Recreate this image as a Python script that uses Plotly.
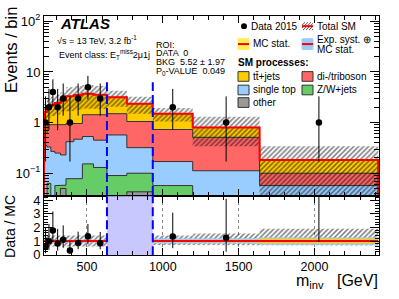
import math
import plotly.graph_objects as go

# ---------------- data ----------------
edges = [217, 237, 262, 289, 325, 362, 414, 470, 543, 632, 763, 934, 1197, 1638, 2420]
other = [0, 0, 0, 0, 0.05, 0, 0, 0, 0, 0, 0.043, 0, 0, 0]
zjets = [0, 0.063, 0, 0.057, 0.008, 0.078, 0.078, 0.153, 0.13, 0.09, 0.057, 0.057, 0, 0]
single_top = [0.35, 0.267, 0.27, 0.193, 0.172, 0.342, 0.392, 0.377, 0.32, 0.48, 0.22, 0.113, 0.112, 0.057]
diboson = [0.27, 0.58, 0.64, 0.66, 0.68, 0.54, 0.49, 0.90, 0.98, 0.93, 0.73, 0.56, 0.40, 0.043]
ttbar = [1.0, 1.14, 1.34, 1.54, 1.84, 2.34, 2.54, 2.27, 2.12, 1.65, 1.32, 0.77, 0.29, 0.083]

data = [1, 2, 4, 2, 3, 1, 3, 5, 3, 0, 0, 2, 1, 1]
data_err_up = [2.30, 2.64, 3.16, 2.64, 2.92, 2.30, 2.92, 3.38, 2.92, 1.84, 1.84, 2.64, 2.30, 2.30]
data_err_dn = [0.83, 1.29, 1.91, 1.29, 1.63, 0.83, 1.63, 2.16, 1.63, 0.0, 0.0, 1.29, 0.83, 0.83]

tot_unc_up = [0.72, 0.90, 1.00, 1.10, 1.20, 1.70, 1.80, 1.85, 1.75, 1.10, 0.87, 0.45, 0.50, 0.16]
tot_unc_dn = [0.65, 0.80, 0.90, 1.00, 1.10, 1.60, 1.70, 1.80, 1.70, 1.10, 0.87, 0.45, 0.46, 0.17]

ratio_tot_up = [0.40] * 11 + [0.40, 0.55, 0.90]
ratio_tot_dn = [0.40] * 11 + [0.30, 0.30, 0.33]
ratio_exp = [0.10] * 11 + [0.18, 0.20, 0.27]
ratio_mcstat = [0.05] * 11 + [0.10, 0.10, 0.17]

roi_lo, roi_hi = 632, 934
roi_line_top = 6.3

main_ytickvals = [0.1, 1, 10, 100]
main_yticktext = ["10<sup>\u22121</sup>", "1", "10", "10<sup>2</sup>"]

# ---------------- helpers ----------------
W, H = 399, 299
FLOOR = 1e-4
n = len(data)
centers = [(edges[i] + edges[i + 1]) / 2 for i in range(n)]


def steps(vals, floor=FLOOR):
    xs, ys = [], []
    for i, v in enumerate(vals):
        v = v if v > floor else floor
        xs += [edges[i], edges[i + 1]]
        ys += [v, v]
    return xs, ys


def closed(vals, floor=FLOOR):
    xs, ys = steps(vals, floor)
    return [edges[0]] + xs + [edges[-1]], [floor] + ys + [floor]


def band(upper, lower, floor=FLOOR):
    xu, yu = steps(upper, floor)
    xl, yl = steps(lower, floor)
    return xu + xl[::-1], yu + yl[::-1]


comps = [("other", other, "#999999"), ("zjets", zjets, "#66CC66"),
         ("single_top", single_top, "#99CCFF"), ("diboson", diboson, "#FF6666"),
         ("ttbar", ttbar, "#FFCC00")]
cums = []
run = [0.0] * n
for name, vals, col in comps:
    run = [r + v for r, v in zip(run, vals)]
    cums.append((name, list(run), col))
total = cums[-1][1]

fig = go.Figure()
OUT = "#333333"
HATCH = dict(shape="/", fgcolor="#000000", size=3.5, solidity=0.45, fillmode="overlay")

# stack (top first)
for name, cvals, col in reversed(cums):
    xs, ys = closed(cvals)
    fig.add_trace(go.Scatter(x=xs, y=ys, mode="lines", fill="toself", fillcolor=col,
                             line=dict(color=OUT, width=1), xaxis="x", yaxis="y",
                             hoverinfo="skip"))

# hatched total uncertainty (main)
up = [t + u for t, u in zip(total, tot_unc_up)]
dn = [t - d for t, d in zip(total, tot_unc_dn)]
bx, by = band(up, dn)
fig.add_trace(go.Scatter(x=bx, y=by, mode="lines", fill="toself",
                         fillcolor="rgba(0,0,0,0)", line=dict(width=0), fillpattern=HATCH,
                         xaxis="x", yaxis="y", hoverinfo="skip"))

# total SM red line
xs, ys = closed(total)
fig.add_trace(go.Scatter(x=xs, y=ys, mode="lines", line=dict(color="#FF0000", width=2),
                         xaxis="x", yaxis="y", hoverinfo="skip"))

# ROI dashed lines (main)
fig.add_trace(go.Scatter(x=[roi_lo, roi_lo, None, roi_hi, roi_hi],
                         y=[FLOOR, roi_line_top, None, FLOOR, roi_line_top],
                         mode="lines", line=dict(color="#0000FF", width=2, dash="9px,4px"),
                         xaxis="x", yaxis="y", hoverinfo="skip"))

# data points (main)
dx = [c for c, d in zip(centers, data) if d > 0]
dy = [d for d in data if d > 0]
deu = [e for e, d in zip(data_err_up, data) if d > 0]
ded = [e for e, d in zip(data_err_dn, data) if d > 0]
fig.add_trace(go.Scatter(x=dx, y=dy, mode="markers", marker=dict(color="black", size=6.5),
                         error_y=dict(type="data", symmetric=False, array=deu, arrayminus=ded,
                                      color="black", thickness=1, width=0),
                         xaxis="x", yaxis="y", hoverinfo="skip"))

# ---------------- ratio panel ----------------
one = [1.0] * n
bx, by = band([1 + u for u in ratio_tot_up], [1 - d for d in ratio_tot_dn], floor=-10)
fig.add_trace(go.Scatter(x=bx, y=by, mode="lines", fill="toself", fillcolor="rgba(0,0,0,0)",
                         line=dict(width=0), fillpattern=HATCH,
                         xaxis="x2", yaxis="y2", hoverinfo="skip"))
bx, by = band([1 + u for u in ratio_exp], [1 - u for u in ratio_exp], floor=-10)
fig.add_trace(go.Scatter(x=bx, y=by, mode="lines", fill="toself", fillcolor="#99CCFF",
                         line=dict(width=0), xaxis="x2", yaxis="y2", hoverinfo="skip"))
bx, by = band([1 + u for u in ratio_mcstat], [1 - u for u in ratio_mcstat], floor=-10)
fig.add_trace(go.Scatter(x=bx, y=by, mode="lines", fill="toself", fillcolor="#FFCC00",
                         line=dict(width=0), xaxis="x2", yaxis="y2", hoverinfo="skip"))
xs, ys = steps(one, floor=-10)
fig.add_trace(go.Scatter(x=xs, y=ys, mode="lines", line=dict(color="#FF0000", width=2),
                         xaxis="x2", yaxis="y2", hoverinfo="skip"))

# ROI shading + dashed lines (ratio)
fig.add_trace(go.Scatter(x=[roi_lo, roi_hi, roi_hi, roi_lo], y=[-1, -1, 6, 6], mode="lines",
                         fill="toself", fillcolor="rgb(200,200,255)", line=dict(width=0),
                         xaxis="x2", yaxis="y2", hoverinfo="skip"))
fig.add_trace(go.Scatter(x=[roi_lo, roi_lo, None, roi_hi, roi_hi], y=[-1, 6, None, -1, 6],
                         mode="lines", line=dict(color="#0000FF", width=2, dash="9px,4px"),
                         xaxis="x2", yaxis="y2", hoverinfo="skip"))

# ratio data
rx, ry, reu, red = [], [], [], []
for c, d, eu, ed, t in zip(centers, data, data_err_up, data_err_dn, total):
    if d > 0:
        rx.append(c); ry.append(d / t); reu.append(eu / t); red.append(ed / t)
fig.add_trace(go.Scatter(x=rx, y=ry, mode="markers", marker=dict(color="black", size=6.5),
                         error_y=dict(type="data", symmetric=False, array=reu, arrayminus=red,
                                      color="black", thickness=1, width=0),
                         xaxis="x2", yaxis="y2", hoverinfo="skip"))

# ---------------- layout ----------------
xd = [44 / W, 379 / W]
main_dom = [1 - 200 / H, 1 - 13 / H]
ratio_dom = [1 - 261 / H, 1 - 200 / H]
FONT = "Liberation Sans, Arial, Helvetica, sans-serif"
ymin, ymax = math.log10(0.035), math.log10(130)
minor_log = [m * 10 ** e for e in range(-2, 3) for m in range(2, 10)]

common_x = dict(range=[217, 2425], domain=xd, ticks="inside", ticklen=7, tickcolor="black",
                dtick=500, tick0=0, showline=True, linecolor="black", linewidth=1,
                mirror="allticks", zeroline=False,
                minor=dict(dtick=100, ticks="inside", ticklen=4, tickcolor="black"))
fig.update_layout(
    width=W, height=H, margin=dict(l=0, r=0, t=0, b=0),
    paper_bgcolor="white", plot_bgcolor="white", showlegend=False,
    font=dict(family=FONT, size=13, color="black"),
    xaxis=dict(common_x, anchor="y", showticklabels=False, showgrid=False),
    yaxis=dict(type="log", domain=main_dom, range=[ymin, ymax], anchor="x",
               tickvals=main_ytickvals, ticktext=main_yticktext, ticks="inside", ticklen=9,
               tickcolor="black", showline=True, linecolor="black", linewidth=1,
               mirror="allticks", showgrid=False, zeroline=False,
               tickfont=dict(size=13),
               minor=dict(tickvals=minor_log, ticks="inside", ticklen=5, tickcolor="black")),
    xaxis2=dict(common_x, anchor="y2", matches="x", showticklabels=True,
                tickfont=dict(size=12.5), showgrid=True, gridcolor="#888888",
                griddash="dot", gridwidth=1),
    yaxis2=dict(domain=ratio_dom, range=[-0.05, 4.3], anchor="x2", tickvals=[0, 1, 2, 3, 4],
                ticks="inside", ticklen=9, tickcolor="black", showline=True, linecolor="black",
                linewidth=1, mirror="allticks", showgrid=False, zeroline=False,
                tickfont=dict(size=13),
                minor=dict(dtick=0.2, ticks="inside", ticklen=4, tickcolor="black")),
)


def px(x):
    return x / W


def py(y):
    return 1 - y / H


ann = []
shapes = []


def text(x, y, s, size=10, anchor="left", yanchor="middle", angle=0):
    ann.append(dict(x=px(x), y=py(y), xref="paper", yref="paper", text=s, showarrow=False,
                    xanchor=anchor, yanchor=yanchor, textangle=angle,
                    font=dict(family=FONT, size=size, color="black"), borderpad=0))


def box(x0, y0, x1, y1, fill, line=OUT):
    shapes.append(dict(type="rect", xref="paper", yref="paper", x0=px(x0), x1=px(x1),
                       y0=py(y0), y1=py(y1), fillcolor=fill, line=dict(color=line, width=1),
                       layer="above"))


def hline(x0, x1, y, col="#FF0000", w=2):
    shapes.append(dict(type="line", xref="paper", yref="paper", x0=px(x0), x1=px(x1),
                       y0=py(y), y1=py(y), line=dict(color=col, width=w), layer="above"))


def hatch(x0, y0, x1, y1, step=3):
    h = y1 - y0
    c = x0 - h
    while c < x1:
        sx, sy = c, y1
        ex, ey = c + h, y0
        if sx < x0:
            sy = y1 - (x0 - sx); sx = x0
        if ex > x1:
            ey = y0 + (ex - x1); ex = x1
        if ex > sx:
            shapes.append(dict(type="line", xref="paper", yref="paper", x0=px(sx), y0=py(sy),
                               x1=px(ex), y1=py(ey), line=dict(color="#222222", width=0.8),
                               layer="above"))
        c += step


# titles and labels
text(1, 3, "Events / bin", size=16.5, anchor="left", yanchor="top", angle=-90)
text(1, 198, "Data / MC", size=14, anchor="left", yanchor="top", angle=-90)
text(379, 299, "m<sub>inv</sub>\u00a0\u00a0\u00a0[GeV]", size=16, anchor="right", yanchor="bottom")
text(59, 21, "<b><i>ATLAS</i></b>", size=15)
text(56, 38, "\u221As = 13 TeV, 3.2 fb<sup>-1</sup>", size=9)
text(58, 53, "Event class: E<sub>T</sub><sup>miss</sup>2\u03bc1j", size=9)
text(155, 43, "ROI:", size=9)
text(155, 52, "DATA  0", size=9)
text(155, 61, "BKG  5.52 \u00b1 1.97", size=9)
text(155, 71, "P<sub>0</sub>-VALUE  0.049", size=9)

# legend
shapes.append(dict(type="circle", xref="paper", yref="paper", x0=px(241), x1=px(247),
                   y0=py(27), y1=py(21), fillcolor="black", line=dict(color="black", width=0),
                   layer="above"))
text(250, 24, "Data 2015")
box(302, 20, 313, 28, "white", line="white")
hatch(302, 20, 313, 28)
hline(302, 313, 24)
text(316, 24, "Total SM")
box(238, 37, 249, 48, "#FFEE55", line="#FFEE55")
hline(238, 249, 42.5)
text(252, 42, "MC stat.")
box(302, 37, 313, 48, "#99CCFF", line="#99CCFF")
hline(302, 313, 42.5)
text(316, 37.5, "Exp. syst. \u2295")
text(316, 48.5, "MC stat.")
text(237, 62, "<b>SM processes:</b>")
box(238, 71, 249, 81, "#FFCC00")
text(252, 76, "tt\u0304+jets")
box(302, 71, 313, 81, "#FF6666")
text(316, 76, "di-/triboson")
box(238, 85, 249, 95, "#99CCFF")
text(252, 90, "single top")
box(302, 85, 313, 95, "#66CC66")
text(316, 90, "Z/W+jets")
box(238, 98, 249, 108, "#999999")
text(252, 103, "other")

fig.update_layout(annotations=ann, shapes=shapes)
fig.write_html("out.html", config={"displayModeBar": False},
               post_script="document.body.style.margin='0px';")
